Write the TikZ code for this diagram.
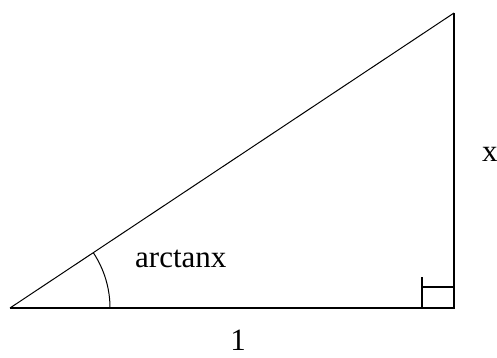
\documentclass[tikz,border=0pt]{standalone}
\usepackage{fontspec}
\setmainfont{Liberation Serif}
\usepackage{tikz}
\usetikzlibrary{positioning}

\begin{document}
\begin{tikzpicture}[
            x=1pt, y=-1pt,
            side/.style={line width=2pt},
            slant/.style={line width=1pt},
            lbl/.style={font=\fontsize{31}{37}\selectfont, inner sep=0pt}
        ]
            \useasboundingbox (0,0) rectangle (497,358);

            % --- VERTICES ---
            \coordinate (origem) at (10,308);
            \coordinate (canto) at (454,308);
            \coordinate (topo) at (454,13);

            % --- LADOS ---
            \draw[side] (origem) -- (canto) -- (topo);
            \draw[slant] (origem) -- (topo);

            % --- ANGULO RETO ---
            \coordinate (retoA) at (422,308);
            \coordinate (retoB) at (422,277);
            \coordinate (retoC) at (422,287);
            \draw[side] (retoA) -- (retoB);
            \draw[side] (retoC) -- (retoC -| canto);

            % --- ARCO ---
            \draw[slant] (origem) ++(100,0) arc[start angle=0, end angle=-33.6, radius=100];

            % --- ROTULOS ---
            \node[lbl, anchor=base west] (rotAngulo) at (135,267) {arctanx};
            \node[lbl, anchor=base west] (rotX) at (482,161) {x};
            \node[lbl, anchor=base] (rotUm) at (238,350) {1};

        \end{tikzpicture}
\end{document}
